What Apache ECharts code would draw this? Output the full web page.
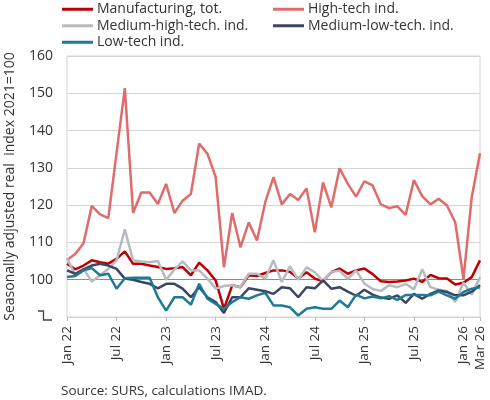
<!DOCTYPE html>
<html>
<head>
<meta charset="utf-8">
<script src="https://cdn.jsdelivr.net/npm/echarts@6/dist/echarts.min.js"></script>
<style>
html,body{margin:0;padding:0;background:#fff;}
#chart{width:490px;height:400px;}
</style>
</head>
<body>
<div id="chart"></div>
<script>
var categories = [
 'Jan 22','Feb 22','Mar 22','Apr 22','May 22','Jun 22','Jul 22','Aug 22','Sep 22','Oct 22','Nov 22','Dec 22',
 'Jan 23','Feb 23','Mar 23','Apr 23','May 23','Jun 23','Jul 23','Aug 23','Sep 23','Oct 23','Nov 23','Dec 23',
 'Jan 24','Feb 24','Mar 24','Apr 24','May 24','Jun 24','Jul 24','Aug 24','Sep 24','Oct 24','Nov 24','Dec 24',
 'Jan 25','Feb 25','Mar 25','Apr 25','May 25','Jun 25','Jul 25','Aug 25','Sep 25','Oct 25','Nov 25','Dec 25',
 'Jan 26','Feb 26','Mar 26'
];
var shownLabels = ['Jan 22','Jul 22','Jan 23','Jul 23','Jan 24','Jul 24','Jan 25','Jul 25','Jan 26','Mar 26'];

var manufacturing = [104.3,102.8,103.8,105.2,104.7,104.3,105.6,107.6,104.3,104.3,103.8,103.4,
 102.9,103.1,103.4,101.2,104.6,102.5,99.8,92.2,98.5,98.0,101.2,101.0,
 101.8,102.5,102.5,102.1,100.3,102.0,100.3,99.6,102.0,103.0,101.6,102.5,
 103.0,101.5,99.6,99.4,99.5,99.8,100.3,99.4,101.3,100.4,100.3,98.7,
 99.2,100.7,105.2];
var highTech = [105.3,106.9,109.8,119.8,117.5,116.5,134.0,151.4,117.9,123.4,123.4,120.3,
 125.7,117.9,121.2,123.0,136.5,133.8,127.5,103.3,117.9,108.7,115.4,110.5,
 120.8,127.5,120.2,123.0,121.4,124.5,112.7,126.1,119.4,129.9,125.7,122.3,
 126.4,125.3,120.2,119.2,119.7,117.4,126.7,122.4,120.2,121.7,119.9,115.4,
 100.2,122.1,133.9];
var mediumHigh = [105.8,101.2,102.9,99.5,101.2,102.9,105.2,113.5,105.2,104.9,104.7,105.0,
 100.0,102.7,104.9,102.5,102.5,100.3,97.6,98.3,98.5,98.0,101.6,101.6,
 100.3,105.2,99.4,103.6,100.0,103.3,102.0,99.6,102.1,102.4,100.2,102.5,
 99.0,97.5,97.0,98.5,98.0,98.9,97.4,102.8,98.0,97.3,97.0,94.0,
 99.2,96.0,100.7];
var mediumLow = [102.5,101.6,102.8,103.8,104.3,103.8,102.9,100.3,100.0,99.4,98.9,97.7,
 98.9,98.9,97.6,95.3,98.0,95.3,94.0,91.1,95.3,95.3,97.7,97.3,
 96.9,96.2,98.0,97.7,95.3,98.0,97.7,99.8,97.6,98.0,96.8,95.7,
 97.3,96.0,95.2,94.9,95.8,93.8,96.2,94.9,96.2,97.1,96.7,95.8,
 95.8,96.8,98.5];
var lowTech = [100.7,101.0,102.5,103.1,101.2,101.6,97.6,100.4,100.5,100.5,100.5,95.3,
 91.7,95.3,95.3,93.3,98.9,94.9,93.5,92.2,94.0,95.3,94.9,95.8,
 96.5,93.1,93.1,92.6,90.4,92.2,92.6,92.2,92.2,94.4,92.6,96.0,
 95.0,95.5,95.0,95.6,94.6,95.9,95.9,95.9,95.8,96.8,95.8,94.9,
 96.7,97.6,98.0];

var seriesNames = ['Manufacturing, tot.','High-tech ind.','Medium-high-tech. ind.','Medium-low-tech. ind.','Low-tech ind.'];
var seriesColors = ['#C00000','#E06B6B','#B7BBC1','#3C4564','#1F7A97'];
var seriesData = [manufacturing, highTech, mediumHigh, mediumLow, lowTech];

var FONT = 'Open Sans';
var TXT = '#333333';

var chart = echarts.init(document.getElementById('chart'), null, {renderer:'canvas'});

var series = seriesNames.map(function(n, i){
  return {
    name: n, type: 'line', data: seriesData[i], symbol: 'none', showSymbol: false,
    lineStyle: {width: 2.5, color: seriesColors[i]}, itemStyle: {color: seriesColors[i]},
    emphasis: {disabled: true}, animation: false
  };
});

function legendCfg(left, names){
  return {
    left: left, top: 1, padding: 0, orient: 'vertical', itemGap: 0,
    icon: 'rect', itemWidth: 31, itemHeight: 3,
    data: names, selectedMode: false,
    textStyle: {fontFamily: FONT, fontSize: 14, color: TXT, lineHeight: 16.5, padding: [0,0,0,-1]}
  };
}

var option = {
  animation: false,
  backgroundColor: '#fff',
  title: {
    text: 'Source: SURS, calculations IMAD.', left: 56, top: 379,
    textStyle: {fontFamily: FONT, fontSize: 13.5, fontWeight: 'normal', color: TXT}
  },
  legend: [
    legendCfg(62, [seriesNames[0], seriesNames[2], seriesNames[4]]),
    legendCfg(273, [seriesNames[1], seriesNames[3]])
  ],
  grid: {
    left: 67, right: 10, top: 56, bottom: 83,
    show: true, borderColor: '#d4d4d4', borderWidth: 1,
    outerBoundsMode: 'none', containLabel: false
  },
  xAxis: {
    type: 'category', data: categories, boundaryGap: false,
    axisLine: {show: true, lineStyle: {color: '#d4d4d4', width: 1}},
    axisTick: {show: true, length: 4, lineStyle: {color: '#bfbfbf'},
      interval: function(i, v){ return shownLabels.indexOf(v) >= 0; }},
    axisLabel: {
      rotate: 90, margin: 9, fontFamily: FONT, fontSize: 13.5, color: TXT,
      interval: function(i, v){ return shownLabels.indexOf(v) >= 0; },
      hideOverlap: false
    },
    splitLine: {show: false}
  },
  yAxis: {
    type: 'value', min: 90, max: 160, interval: 10,
    name: 'Seasonally adjusted real  index 2021=100',
    nameLocation: 'middle', nameGap: 50,
    nameTextStyle: {fontFamily: FONT, fontSize: 14, color: TXT},
    axisLine: {show: false}, axisTick: {show: false},
    axisLabel: {margin: 14, fontFamily: FONT, fontSize: 14, color: TXT,
      formatter: function(v){ return v === 90 ? '' : String(v); }},
    splitLine: {show: true, lineStyle: {width: 1,
      color: ['#d4d4d4','#8c8c8c','#d4d4d4','#d4d4d4','#d4d4d4','#d4d4d4','#d4d4d4','#d4d4d4']}}
  },
  graphic: [{
    type: 'polyline', silent: true,
    shape: {points: [[38,311],[43.5,311],[43.5,320],[52,320]]},
    style: {stroke: '#444', lineWidth: 1.3, fill: null}
  }],
  series: series
};
chart.setOption(option);
</script>
</body>
</html>
